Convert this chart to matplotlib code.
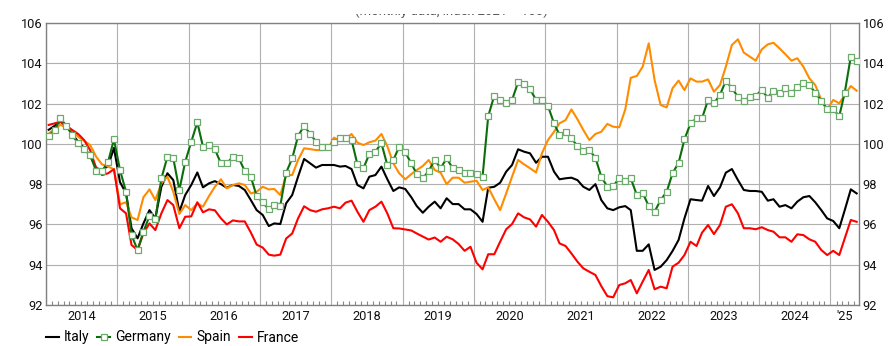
import matplotlib
matplotlib.use("Agg")
import matplotlib.pyplot as plt
import matplotlib.dates as mdates
from matplotlib.patches import Rectangle
import pandas as pd

plt.rcParams['font.family'] = ['Roboto', 'DejaVu Sans']

# monthly values, Jan 2014 - May 2025
months = pd.date_range('2014-01-01', '2025-05-01', freq='MS') + pd.Timedelta(days=14)

italy = [100.7, 100.9, 101.1, 100.9, 100.5, 100.1, 99.8, 99.4, 98.8, 98.7, 98.9, 99.8,
         98.1, 97.55, 95.81, 95.31, 96.05, 96.71, 96.30, 97.87, 98.54, 98.20, 96.63, 97.46,
         97.96, 98.58, 97.84, 98.04, 98.15, 98.0, 97.82, 97.96, 97.91, 97.71, 97.21, 96.71,
         96.47, 95.92, 96.05, 96.02, 97.05, 97.46, 98.37, 99.25, 99.03, 98.82, 98.95, 98.95,
         98.95, 98.87, 98.9, 98.75, 97.96, 97.79, 98.37, 98.45, 98.87, 98.25, 97.66, 97.84,
         97.76, 97.35, 96.91, 96.58, 96.88, 97.13, 96.80, 97.30, 97.01, 97.01, 96.75, 96.75,
         96.52, 96.13, 97.82, 97.87, 98.07, 98.62, 98.95, 99.73, 99.61, 99.53, 99.06, 99.36,
         99.36, 98.62, 98.24, 98.29, 98.32, 98.20, 97.87, 97.71, 98.0, 97.21, 96.80, 96.71,
         96.85, 96.91, 96.71, 94.69, 94.69, 95.01, 93.74, 93.90, 94.23, 94.68, 95.23, 96.3,
         97.25, 97.21, 97.18, 97.91, 97.41, 97.84, 98.57, 98.75, 98.20, 97.71, 97.66, 97.66,
         97.62, 97.18, 97.25, 96.88, 96.96, 96.80, 97.13, 97.35, 97.41, 97.10, 96.71, 96.30,
         96.17, 95.81, 96.71, 97.74, 97.54]

germany = [100.39, 100.69, 101.27, 100.90, 100.44, 100.03, 99.74, 99.45, 98.65, 98.65, 99.11, 100.22,
           98.70, 97.62, 95.47, 94.73, 95.64, 96.42, 96.25, 98.29, 99.36, 99.28, 97.71, 99.11,
           100.10, 101.07, 99.86, 99.94, 99.73, 99.03, 99.03, 99.36, 99.28, 98.65, 98.37, 97.41,
           97.10, 96.75, 96.96, 96.93, 98.57, 99.28, 100.39, 100.89, 100.49, 100.11, 99.83, 99.83,
           100.08, 100.27, 100.31, 100.19, 98.98, 98.79, 99.50, 99.61, 100.03, 98.95, 99.20, 99.86,
           99.58, 99.03, 98.50, 98.29, 98.65, 99.20, 98.79, 99.28, 98.79, 98.70, 98.54, 98.54,
           98.49, 98.37, 101.38, 102.39, 102.18, 102.04, 102.18, 103.06, 102.95, 102.72, 102.18, 102.18,
           101.88, 101.02, 100.44, 100.60, 100.27, 99.89, 99.66, 99.69, 99.31, 98.37, 97.87, 97.91,
           98.29, 98.15, 98.29, 97.46, 97.57, 96.91, 96.63, 97.21, 97.62, 98.54, 99.06, 100.22,
           101.02, 101.27, 101.27, 102.18, 102.01, 102.43, 103.14, 102.76, 102.34, 102.13, 102.34, 102.39,
           102.67, 102.29, 102.64, 102.54, 102.76, 102.51, 102.81, 103.01, 102.92, 102.54, 102.14, 101.71,
           101.71, 101.38, 102.54, 104.33, 104.13]

spain = [100.5, 100.77, 100.94, 100.82, 100.65, 100.35, 100.16, 99.94, 99.36, 98.98, 98.87, 98.74,
         97.0, 97.1, 96.35, 96.22, 97.35, 97.74, 97.21, 98.04, 98.37, 97.62, 96.52, 96.96,
         96.71, 97.05, 96.88, 97.41, 97.87, 98.24, 97.79, 97.96, 98.04, 97.96, 97.54, 97.62,
         97.87, 97.74, 97.76, 97.46, 98.45, 98.45, 99.20, 99.78, 99.74, 99.69, 99.69, 99.72,
         100.31, 100.14, 100.24, 100.49, 100.06, 99.94, 100.08, 100.16, 100.49, 99.89, 99.03, 98.54,
         98.24, 98.50, 98.70, 98.90, 99.20, 98.70, 98.57, 98.0, 98.32, 98.32, 98.07, 98.12,
         98.17, 97.71, 97.84, 97.25, 96.71, 97.54, 98.37, 99.20, 98.98, 98.79, 98.58, 99.53,
         100.19, 100.60, 101.02, 101.18, 101.71, 101.22, 100.69, 100.19, 100.49, 100.60, 100.99, 100.85,
         100.82, 101.71, 103.28, 103.37, 103.83, 104.99, 103.17, 101.93, 101.81, 102.76, 103.14, 102.67,
         103.25, 103.09, 103.09, 103.20, 102.59, 102.92, 103.83, 104.91, 105.19, 104.53, 104.33, 104.13,
         104.69, 104.94, 105.02, 104.74, 104.45, 104.13, 104.25, 103.83, 103.25, 102.92, 102.18, 101.71,
         102.18, 102.01, 102.43, 102.87, 102.64]

france = [100.94, 101.02, 101.10, 100.90, 100.69, 100.49, 100.19, 99.69, 98.79, 98.45, 98.54, 98.74,
          96.8, 96.55, 94.98, 94.73, 95.56, 96.05, 95.72, 96.55, 97.21, 96.96, 95.81, 96.38,
          96.4, 97.1, 96.6, 96.75, 96.7, 96.3, 96.0, 96.2, 96.15, 96.15, 95.6, 95.0,
          94.85, 94.5, 94.45, 94.5, 95.3, 95.55, 96.3, 96.9, 96.71, 96.63, 96.75, 96.8,
          96.88, 96.8, 97.08, 97.18, 96.63, 96.13, 96.71, 96.88, 97.13, 96.55, 95.81, 95.8,
          95.75, 95.7, 95.55, 95.4, 95.25, 95.35, 95.14, 95.39, 95.26, 95.03, 94.69, 94.89,
          94.10, 93.77, 94.52, 94.52, 95.14, 95.76, 96.02, 96.55, 96.35, 96.25, 95.89, 96.47,
          96.13, 95.72, 95.06, 94.93, 94.56, 94.15, 93.82, 93.65, 93.49, 92.94, 92.44, 92.38,
          92.99, 93.08, 93.24, 92.58, 93.16, 93.74, 92.78, 92.91, 92.83, 93.90, 94.10, 94.48,
          95.14, 94.93, 95.59, 95.97, 95.52, 95.97, 96.88, 97.0, 96.55, 95.81, 95.81, 95.76,
          95.86, 95.72, 95.64, 95.36, 95.36, 95.14, 95.51, 95.47, 95.26, 95.14, 94.73, 94.48,
          94.69, 94.48, 95.31, 96.22, 96.13]

years = list(range(2014, 2025))
yticks = list(range(92, 107, 2))

fig = plt.figure(figsize=(8.92, 3.46), dpi=100)
ax = fig.add_axes([46 / 892, 41 / 346, 813 / 892, 282 / 346])

ax.plot(months, italy, color='black', lw=1.5, label='Italy', zorder=3)
ax.plot(months, germany, color='#0b6e0b', lw=1.5, marker='s', ms=4.2,
        mfc='white', mec='#6aaa6a', mew=0.9, label='Germany', zorder=4)
ax.plot(months, spain, color='#ff8c00', lw=1.5, label='Spain', zorder=3)
ax.plot(months, france, color='#ff0000', lw=1.5, label='France', zorder=3)

x0, x1 = pd.Timestamp('2014-01-01'), pd.Timestamp('2025-05-27')
ax.set_xlim(x0, x1)
ax.set_ylim(92, 106)
ax.set_yticks(yticks)

ax.xaxis.set_major_locator(mdates.YearLocator())
ax.xaxis.set_minor_locator(mdates.MonthLocator())
ax.xaxis.set_major_formatter(plt.NullFormatter())
ax.tick_params(axis='x', which='major', length=0)
ax.tick_params(axis='x', which='minor', direction='in', length=3, color='#888888', width=0.8)
ax.tick_params(axis='y', length=0, labelsize=9.2, labelright=True, pad=2.5, labelcolor='#111111')
ax.grid(True, which='major', color='#b0b0b0', lw=0.8)
for s in ax.spines.values():
    s.set_color('#808080')
    s.set_linewidth(1)

tr = ax.get_xaxis_transform()
for y in years:
    ax.text(pd.Timestamp(f'{y}-07-02'), -0.018, str(y), transform=tr,
            ha='center', va='top', fontsize=9.2, color='#111111')
ax.text(pd.Timestamp('2025-01-01') + (x1 - pd.Timestamp('2025-01-01')) / 2, -0.018, "'25",
        transform=tr, ha='center', va='top', fontsize=9.2, color='#111111')

fig.legend(loc='center left', bbox_to_anchor=(46 / 892, 1 - 337.5 / 346), ncol=4,
           frameon=False, fontsize=10, borderpad=0, borderaxespad=0,
           handlelength=0.9, handletextpad=0.35, columnspacing=0.6)

# title, mostly hidden above the plot (only its lower edge shows)
fig.text(0.506, 1 - 14.5 / 346, '(monthly data, index 2021 = 100)', ha='center',
         va='baseline', fontsize=9.5, color='#555555', zorder=1)
fig.add_artist(Rectangle((0, 1 - 13.5 / 346), 1, 13.5 / 346, transform=fig.transFigure,
                         facecolor='white', edgecolor='none', zorder=20))

fig.savefig('out.png', dpi=100)
